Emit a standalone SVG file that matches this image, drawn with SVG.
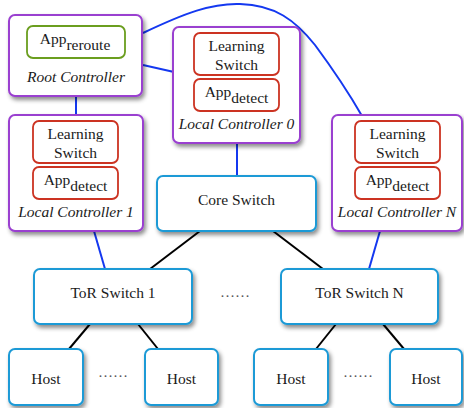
<svg xmlns="http://www.w3.org/2000/svg" width="464" height="408" viewBox="0 0 464 408" font-family="'Liberation Serif', 'Times New Roman', serif">
<defs>
<filter id="sh" x="-20%" y="-20%" width="140%" height="150%">
<feDropShadow dx="2" dy="3" stdDeviation="2" flood-color="#000" flood-opacity="0.45"/>
</filter>
<style>
text{font-size:15.5px;fill:#1a1a1a;text-anchor:middle}
.it{font-style:italic}
.ctl{fill:#fff;stroke:#9a3fd0;stroke-width:2;filter:url(#sh)}
.sw{fill:#fff;stroke:#1e9ad6;stroke-width:2;filter:url(#sh)}
.app{fill:#fff;stroke:#cc3322;stroke-width:1.8}
.gr{fill:#fff;stroke:#6b9e1f;stroke-width:1.8}
.bl{stroke:#1438f0;stroke-width:2;fill:none}
.bk{stroke:#000;stroke-width:2;fill:none}
.dots{font-size:15px;fill:#555}
</style>
</defs>
<g id="connectors">
<path class="bl" d="M143,33 C185,13 212,3 240,4 C275,5 295,20 315,45 C335,72 350,95 362,116"/>
<line class="bl" x1="143" y1="65" x2="174" y2="72"/>
<line class="bl" x1="76" y1="96" x2="76" y2="115"/>
<line class="bl" x1="237" y1="143" x2="237" y2="176"/>
<line class="bl" x1="94" y1="231" x2="105" y2="269"/>
<line class="bl" x1="380" y1="231" x2="369" y2="269"/>
<line class="bk" x1="200" y1="231" x2="150" y2="269"/>
<line class="bk" x1="273" y1="231" x2="323" y2="269"/>
<line class="bk" x1="90" y1="324" x2="69" y2="349"/>
<line class="bk" x1="138" y1="324" x2="158" y2="349"/>
<line class="bk" x1="336" y1="324" x2="316" y2="349"/>
<line class="bk" x1="383" y1="324" x2="404" y2="349"/>
</g>
<g id="root-controller">
<rect class="ctl" x="9" y="15" width="133" height="81" rx="6"/>
<rect class="gr" x="27" y="26" width="98" height="32" rx="6"/>
<text x="75" y="44">App<tspan dy="6">reroute</tspan></text>
<text class="it" x="76" y="82">Root Controller</text>
</g>
<g id="local-controller-0">
<rect class="ctl" x="173" y="27" width="127" height="116" rx="6"/>
<rect class="app" x="194" y="33" width="85" height="42" rx="6"/>
<text x="236.5" y="51">Learning</text>
<text x="236.5" y="70">Switch</text>
<rect class="app" x="194" y="79" width="85" height="32" rx="6"/>
<text x="236.5" y="97">App<tspan dy="6">detect</tspan></text>
<text class="it" x="236.5" y="129">Local Controller 0</text>
</g>
<g id="local-controller-1">
<rect class="ctl" x="9" y="115" width="134" height="116" rx="6"/>
<rect class="app" x="33" y="121" width="85" height="42" rx="6"/>
<text x="75.5" y="139">Learning</text>
<text x="75.5" y="158">Switch</text>
<rect class="app" x="33" y="167" width="85" height="32" rx="6"/>
<text x="75.5" y="185">App<tspan dy="6">detect</tspan></text>
<text class="it" x="76" y="217">Local Controller 1</text>
</g>
<g id="local-controller-n">
<rect class="ctl" x="332" y="115" width="130" height="116" rx="6"/>
<rect class="app" x="355" y="121" width="85" height="42" rx="6"/>
<text x="397.5" y="139">Learning</text>
<text x="397.5" y="158">Switch</text>
<rect class="app" x="355" y="167" width="85" height="32" rx="6"/>
<text x="397.5" y="185">App<tspan dy="6">detect</tspan></text>
<text class="it" x="397" y="217">Local Controller N</text>
</g>
<g id="core-switch">
<rect class="sw" x="157" y="176" width="159" height="55" rx="6"/>
<text x="236.5" y="205">Core Switch</text>
</g>
<g id="tor-switch-1">
<rect class="sw" x="34" y="269" width="158" height="55" rx="6"/>
<text x="113" y="298">ToR Switch 1</text>
</g>
<g id="tor-switch-n">
<rect class="sw" x="281" y="269" width="157" height="55" rx="6"/>
<text x="359.5" y="298">ToR Switch N</text>
</g>
<text class="dots" x="235" y="297">……</text>
<g id="host-1">
<rect class="sw" x="9" y="349" width="74" height="56" rx="6"/>
<text x="46" y="384">Host</text>
</g>
<g id="host-2">
<rect class="sw" x="145" y="349" width="73" height="56" rx="6"/>
<text x="181.5" y="384">Host</text>
</g>
<g id="host-3">
<rect class="sw" x="254" y="349" width="74" height="56" rx="6"/>
<text x="291" y="384">Host</text>
</g>
<g id="host-4">
<rect class="sw" x="390" y="349" width="72" height="56" rx="6"/>
<text x="426" y="384">Host</text>
</g>
<text class="dots" x="113" y="377">……</text>
<text class="dots" x="358" y="377">……</text>
</svg>
